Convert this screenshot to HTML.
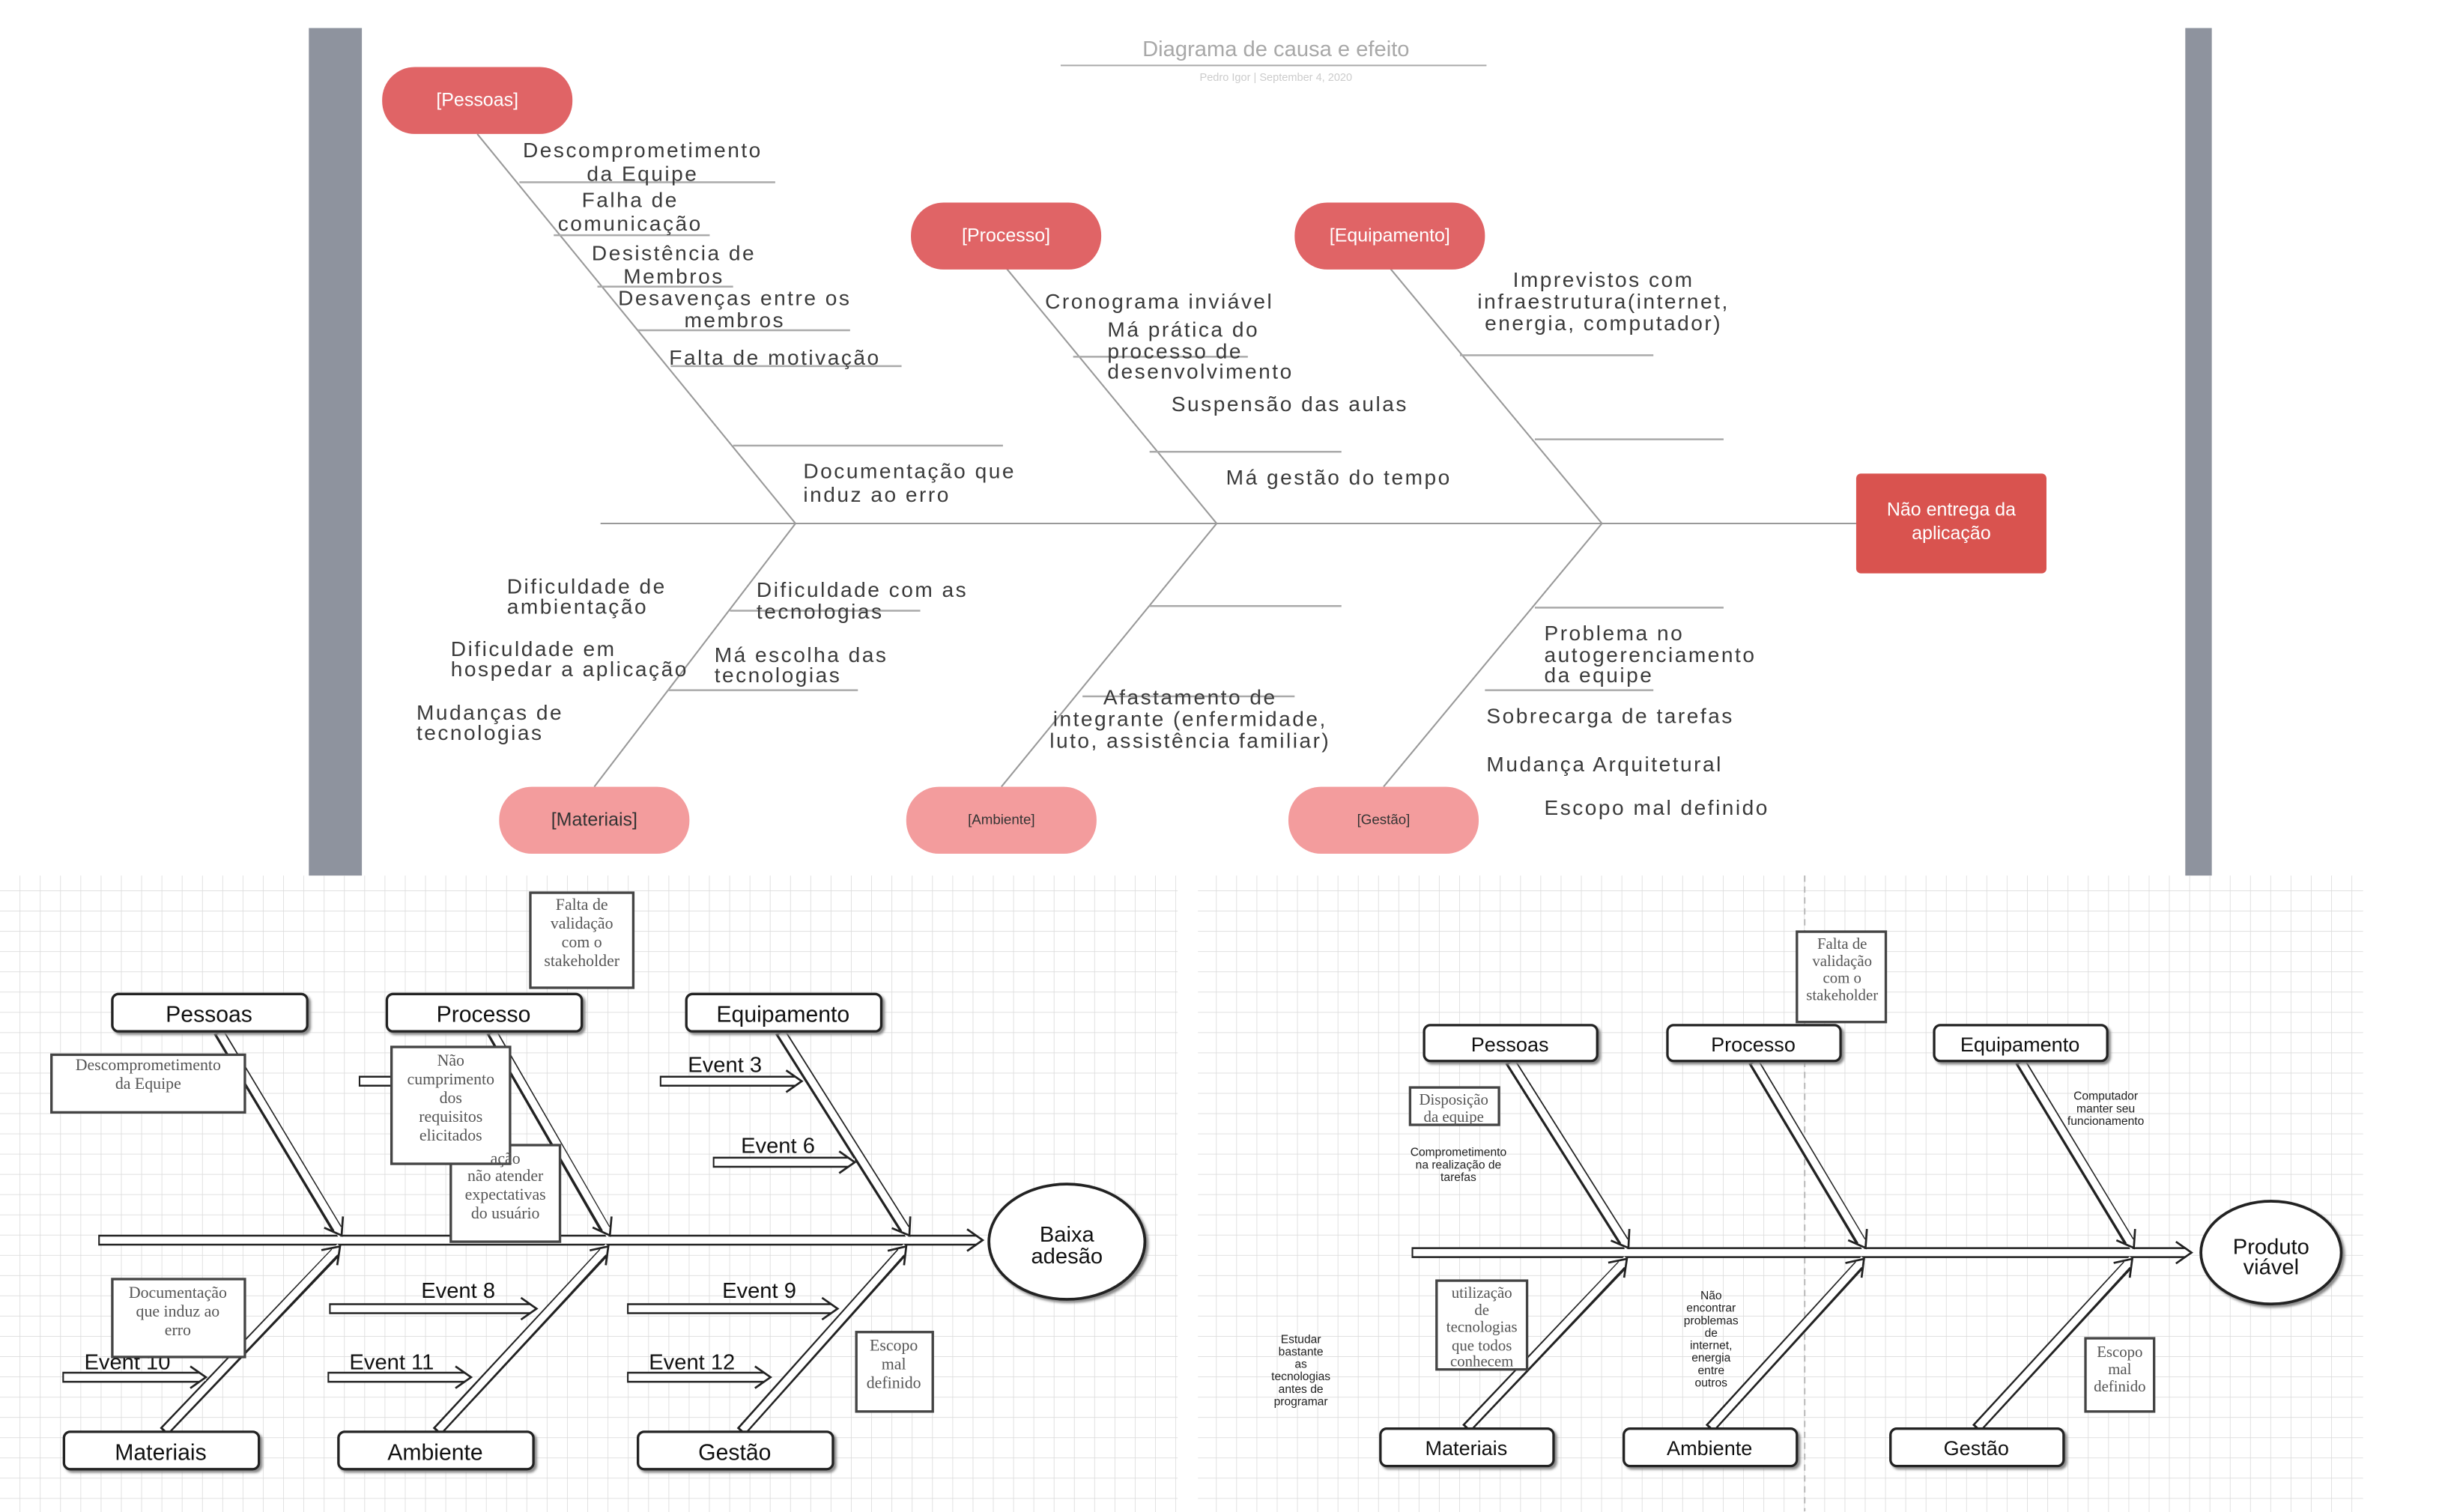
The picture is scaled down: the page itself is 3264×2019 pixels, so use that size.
<!DOCTYPE html>
<html><head><meta charset="utf-8"><style>
html,body{margin:0;padding:0;background:#fff;}
svg{display:block;}
.t{font-family:"Liberation Sans",sans-serif;fill:#3a3a3a;font-size:13.5px;letter-spacing:1.2px;}
.s{font-family:"Liberation Serif",serif;fill:#555;font-size:10.5px;text-anchor:middle;}
.b{font-family:"Liberation Sans",sans-serif;fill:#111;font-size:14.5px;text-anchor:middle;}
.e{font-family:"Liberation Sans",sans-serif;fill:#111;font-size:14px;}
.sm{font-family:"Liberation Sans",sans-serif;fill:#222;font-size:7.5px;text-anchor:middle;}
.p{font-family:"Liberation Sans",sans-serif;fill:#fff;font-size:12px;text-anchor:middle;}
</style></head><body>
<svg width="3264" height="2019" viewBox="0 0 1567.5 970.5" preserveAspectRatio="none" xmlns="http://www.w3.org/2000/svg">
<defs>
<pattern id="g" width="13" height="13" patternUnits="userSpaceOnUse"><path d="M13 0V13H0" fill="none" stroke="#dcdcdc" stroke-width="0.8"/></pattern>
<marker id="a" markerUnits="userSpaceOnUse" markerWidth="16" markerHeight="18" refX="12" refY="9" orient="auto"><path d="M2,2 L12,9 L2,16" fill="none" stroke="#222" stroke-width="1.3"/></marker>
<filter id="sh"><feDropShadow dx="1.5" dy="1.5" stdDeviation="0.8" flood-color="#888"/></filter>
</defs>
<rect width="1567.5" height="970.5" fill="#fff"/>
<!-- TOP PANEL -->
<rect x="198" y="18" width="1220" height="544" fill="#fff"/>
<rect x="198" y="18" width="34" height="544" fill="#8e939e"/>
<rect x="1401" y="18" width="17" height="544" fill="#8e939e"/>
<text x="818" y="36" text-anchor="middle" font-family="Liberation Sans,sans-serif" font-size="14" fill="#a8a8a8">Diagrama de causa e efeito</text>
<line x1="680" y1="42" x2="953" y2="42" stroke="#aaa" stroke-width="1"/>
<text x="818" y="52" text-anchor="middle" font-family="Liberation Sans,sans-serif" font-size="7" fill="#ccc">Pedro Igor  |  September 4, 2020</text>
<g stroke="#999" stroke-width="1" fill="none">
<line x1="385" y1="336" x2="1190" y2="336"/>
<polyline points="306,86 510,336 381,505"/>
<polyline points="645,172 780,336 642,505"/>
<polyline points="891,172 1027,336 887,505"/>
</g>
<g stroke="#aaa" stroke-width="1.2">
<line x1="333" y1="117" x2="497" y2="117"/><line x1="355" y1="151" x2="455" y2="151"/>
<line x1="383" y1="184" x2="470" y2="184"/><line x1="409" y1="212" x2="545" y2="212"/>
<line x1="430" y1="235" x2="578" y2="235"/><line x1="470" y1="286" x2="643" y2="286"/>
<line x1="688" y1="229" x2="800" y2="229"/><line x1="737" y1="290" x2="860" y2="290"/>
<line x1="936" y1="228" x2="1060" y2="228"/><line x1="984" y1="282" x2="1105" y2="282"/>
<line x1="468" y1="392" x2="590" y2="392"/><line x1="428" y1="443" x2="550" y2="443"/>
<line x1="737" y1="389" x2="860" y2="389"/><line x1="694" y1="447" x2="830" y2="447"/>
<line x1="984" y1="390" x2="1105" y2="390"/><line x1="952" y1="443" x2="1060" y2="443"/>
</g>
<g class="t">
<text x="412" y="101" text-anchor="middle">Descomprometimento</text><text x="412" y="116" text-anchor="middle">da Equipe</text>
<text x="404" y="133" text-anchor="middle">Falha de</text><text x="404" y="148" text-anchor="middle">comunicação</text>
<text x="432" y="167" text-anchor="middle">Desistência de</text><text x="432" y="182" text-anchor="middle">Membros</text>
<text x="471" y="196" text-anchor="middle">Desavenças entre os</text><text x="471" y="210" text-anchor="middle">membros</text>
<text x="429" y="234">Falta de motivação</text>
<text x="515" y="307">Documentação que</text><text x="515" y="322">induz ao erro</text>
<text x="670" y="198">Cronograma inviável</text>
<text x="710" y="216">Má prática do</text><text x="710" y="230">processo de</text><text x="710" y="243">desenvolvimento</text>
<text x="751" y="264">Suspensão das aulas</text>
<text x="786" y="311">Má gestão do tempo</text>
<text x="1028" y="184" text-anchor="middle">Imprevistos com</text><text x="1028" y="198" text-anchor="middle">infraestrutura(internet,</text><text x="1028" y="212" text-anchor="middle">energia, computador)</text>
<text x="325" y="381">Dificuldade de</text><text x="325" y="394">ambientação</text>
<text x="485" y="383">Dificuldade com as</text><text x="485" y="397">tecnologias</text>
<text x="289" y="421">Dificuldade em</text><text x="289" y="434">hospedar a aplicação</text>
<text x="458" y="425">Má escolha das</text><text x="458" y="438">tecnologias</text>
<text x="267" y="462">Mudanças de</text><text x="267" y="475">tecnologias</text>
<text x="763" y="452" text-anchor="middle">Afastamento de</text><text x="763" y="466" text-anchor="middle">integrante (enfermidade,</text><text x="763" y="480" text-anchor="middle">luto, assistência familiar)</text>
<text x="990" y="411">Problema no</text><text x="990" y="425">autogerenciamento</text><text x="990" y="438">da equipe</text>
<text x="953" y="464">Sobrecarga de tarefas</text>
<text x="953" y="495">Mudança Arquitetural</text>
<text x="990" y="523">Escopo mal definido</text>
</g>
<g>
<rect x="245" y="43" width="122" height="43" rx="21" fill="#e06466"/><text class="p" x="306" y="68">[Pessoas]</text>
<rect x="584" y="130" width="122" height="43" rx="21" fill="#e06466"/><text class="p" x="645" y="155">[Processo]</text>
<rect x="830" y="130" width="122" height="43" rx="21" fill="#e06466"/><text class="p" x="891" y="155">[Equipamento]</text>
<rect x="320" y="505" width="122" height="43" rx="21" fill="#f39c9d"/><text class="p" x="381" y="530" style="fill:#333">[Materiais]</text>
<rect x="581" y="505" width="122" height="43" rx="21" fill="#f39c9d"/><text x="642" y="529" text-anchor="middle" font-family="Liberation Sans,sans-serif" font-size="9" fill="#333">[Ambiente]</text>
<rect x="826" y="505" width="122" height="43" rx="21" fill="#f39c9d"/><text x="887" y="529" text-anchor="middle" font-family="Liberation Sans,sans-serif" font-size="9" fill="#333">[Gestão]</text>
<rect x="1190" y="304" width="122" height="64" rx="3" fill="#d9534f"/>
<text class="p" x="1251" y="331">Não entrega da</text><text class="p" x="1251" y="346">aplicação</text>
</g>

<!-- BOTTOM LEFT -->
<rect x="0" y="562" width="755" height="409" fill="url(#g)"/>
<g fill="none">
<g stroke="#222" stroke-width="7">
<line x1="63" y1="796" x2="626" y2="796"/>
<line x1="140" y1="662" x2="216" y2="789"/><line x1="315" y1="662" x2="388" y2="789"/><line x1="500" y1="662" x2="580" y2="789"/>
<line x1="105" y1="919" x2="215" y2="804"/><line x1="280" y1="919" x2="387" y2="804"/><line x1="475" y1="919" x2="578" y2="804"/>
<line x1="423" y1="694" x2="510" y2="694"/><line x1="457" y1="746" x2="544" y2="746"/>
<line x1="211" y1="840" x2="340" y2="840"/><line x1="402" y1="840" x2="533" y2="840"/>
<line x1="40" y1="884" x2="128" y2="884"/><line x1="210" y1="884" x2="298" y2="884"/><line x1="402" y1="884" x2="490" y2="884"/>
<line x1="230" y1="694" x2="255" y2="694"/>
</g>
<g stroke="#fff" stroke-width="4.6" marker-end="url(#a)">
<line x1="64" y1="796" x2="630" y2="796"/>
<line x1="141" y1="663" x2="219" y2="793"/><line x1="316" y1="663" x2="391" y2="793"/><line x1="501" y1="663" x2="583" y2="793"/>
<line x1="106" y1="918" x2="218" y2="800"/><line x1="281" y1="918" x2="390" y2="800"/><line x1="476" y1="918" x2="581" y2="800"/>
<line x1="424" y1="694" x2="514" y2="694"/><line x1="458" y1="746" x2="548" y2="746"/>
<line x1="212" y1="840" x2="344" y2="840"/><line x1="403" y1="840" x2="537" y2="840"/>
<line x1="41" y1="884" x2="132" y2="884"/><line x1="211" y1="884" x2="302" y2="884"/><line x1="403" y1="884" x2="494" y2="884"/>
</g>
<line x1="231" y1="694" x2="256" y2="694" stroke="#fff" stroke-width="4.6"/>
</g>
<ellipse cx="684" cy="797" rx="50" ry="37" fill="#fff" stroke="#222" stroke-width="1.8" filter="url(#sh)"/>
<text class="e" x="684" y="797" text-anchor="middle" font-size="12">Baixa</text><text class="e" x="684" y="811" text-anchor="middle" font-size="12">adesão</text>
<g fill="#fff" stroke="#222" stroke-width="1.6" filter="url(#sh)">
<rect x="72" y="638" width="125" height="24" rx="4"/><rect x="248" y="638" width="125" height="24" rx="4"/><rect x="440" y="638" width="125" height="24" rx="4"/>
<rect x="41" y="919" width="125" height="24" rx="4"/><rect x="217" y="919" width="125" height="24" rx="4"/><rect x="409" y="919" width="125" height="24" rx="4"/>
</g>
<g class="b"><text x="134" y="656">Pessoas</text><text x="310" y="656">Processo</text><text x="502" y="656">Equipamento</text>
<text x="103" y="937">Materiais</text><text x="279" y="937">Ambiente</text><text x="471" y="937">Gestão</text></g>
<g class="e"><text x="441" y="688">Event 3</text><text x="475" y="740">Event 6</text><text x="270" y="833">Event 8</text><text x="463" y="833">Event 9</text>
<text x="54" y="879">Event 10</text><text x="224" y="879">Event 11</text><text x="416" y="879">Event 12</text></g>
<g fill="#fff" stroke="#444" stroke-width="1.6">
<rect x="340" y="573" width="66" height="61"/><rect x="33" y="677" width="124" height="37"/>
<rect x="289" y="735" width="70" height="62"/><rect x="251" y="672" width="76" height="75"/>
<rect x="72" y="821" width="85" height="50"/><rect x="549" y="855" width="49" height="51"/>
</g>
<g class="s">
<text x="373" y="584">Falta de</text><text x="373" y="596">validação</text><text x="373" y="608">com o</text><text x="373" y="620">stakeholder</text>
<text x="95" y="687">Descomprometimento</text><text x="95" y="699">da Equipe</text>
<text x="324" y="747">ação</text><text x="324" y="758">não atender</text><text x="324" y="770">expectativas</text><text x="324" y="782">do usuário</text>
<text x="289" y="684">Não</text><text x="289" y="696">cumprimento</text><text x="289" y="708">dos</text><text x="289" y="720">requisitos</text><text x="289" y="732">elicitados</text>
<text x="114" y="833">Documentação</text><text x="114" y="845">que induz ao</text><text x="114" y="857">erro</text>
<text x="573" y="867">Escopo</text><text x="573" y="879">mal</text><text x="573" y="891">definido</text>
</g>

<!-- BOTTOM RIGHT -->
<rect x="768" y="562" width="747" height="409" fill="url(#g)"/>
<line x1="1157" y1="562" x2="1157" y2="970" stroke="#bbb" stroke-width="1" stroke-dasharray="4,3"/>
<g fill="none">
<g stroke="#222" stroke-width="7">
<line x1="905" y1="804" x2="1401" y2="804"/>
<line x1="968" y1="681" x2="1041" y2="797"/><line x1="1124" y1="681" x2="1193" y2="797"/><line x1="1295" y1="681" x2="1365" y2="797"/>
<line x1="940" y1="917" x2="1040" y2="812"/><line x1="1096" y1="917" x2="1192" y2="812"/><line x1="1267" y1="917" x2="1364" y2="812"/>
</g>
<g stroke="#fff" stroke-width="4.6" marker-end="url(#a)">
<line x1="906" y1="804" x2="1405" y2="804"/>
<line x1="969" y1="682" x2="1044" y2="801"/><line x1="1125" y1="682" x2="1196" y2="801"/><line x1="1296" y1="682" x2="1368" y2="801"/>
<line x1="941" y1="916" x2="1043" y2="808"/><line x1="1097" y1="916" x2="1195" y2="808"/><line x1="1268" y1="916" x2="1367" y2="808"/>
</g>
</g>
<ellipse cx="1456" cy="804" rx="45" ry="33" fill="#fff" stroke="#222" stroke-width="1.8" filter="url(#sh)"/>
<text class="e" x="1456" y="805" text-anchor="middle" font-size="11.5">Produto</text><text class="e" x="1456" y="818" text-anchor="middle" font-size="11.5">viável</text>
<g fill="#fff" stroke="#222" stroke-width="1.6" filter="url(#sh)">
<rect x="913" y="658" width="111" height="23" rx="4"/><rect x="1069" y="658" width="111" height="23" rx="4"/><rect x="1240" y="658" width="111" height="23" rx="4"/>
<rect x="885" y="917" width="111" height="24" rx="4"/><rect x="1041" y="917" width="111" height="24" rx="4"/><rect x="1212" y="917" width="111" height="24" rx="4"/>
</g>
<g class="b" style="font-size:13px"><text x="968" y="675">Pessoas</text><text x="1124" y="675">Processo</text><text x="1295" y="675">Equipamento</text>
<text x="940" y="934">Materiais</text><text x="1096" y="934">Ambiente</text><text x="1267" y="934">Gestão</text></g>
<g fill="#fff" stroke="#444" stroke-width="1.6">
<rect x="1152" y="598" width="57" height="58"/><rect x="904" y="698" width="57" height="24"/>
<rect x="921" y="822" width="58" height="57"/><rect x="1337" y="859" width="44" height="47"/>
</g>
<g class="s" style="font-size:10px">
<text x="1181" y="609">Falta de</text><text x="1181" y="620">validação</text><text x="1181" y="631">com o</text><text x="1181" y="642">stakeholder</text>
<text x="932" y="709">Disposição</text><text x="932" y="720">da equipe</text>
<text x="950" y="833">utilização</text><text x="950" y="844">de</text><text x="950" y="855">tecnologias</text><text x="950" y="867">que todos</text><text x="950" y="877">conhecem</text>
<text x="1359" y="871">Escopo</text><text x="1359" y="882">mal</text><text x="1359" y="893">definido</text>
</g>
<g class="sm">
<text x="935" y="742">Comprometimento</text><text x="935" y="750">na realização de</text><text x="935" y="758">tarefas</text>
<text x="1350" y="706">Computador</text><text x="1350" y="714">manter seu</text><text x="1350" y="722">funcionamento</text>
<text x="834" y="862">Estudar</text><text x="834" y="870">bastante</text><text x="834" y="878">as</text><text x="834" y="886">tecnologias</text><text x="834" y="894">antes de</text><text x="834" y="902">programar</text>
<text x="1097" y="834">Não</text><text x="1097" y="842">encontrar</text><text x="1097" y="850">problemas</text><text x="1097" y="858">de</text><text x="1097" y="866">internet,</text><text x="1097" y="874">energia</text><text x="1097" y="882">entre</text><text x="1097" y="890">outros</text>
</g>
</svg>
</body></html>
